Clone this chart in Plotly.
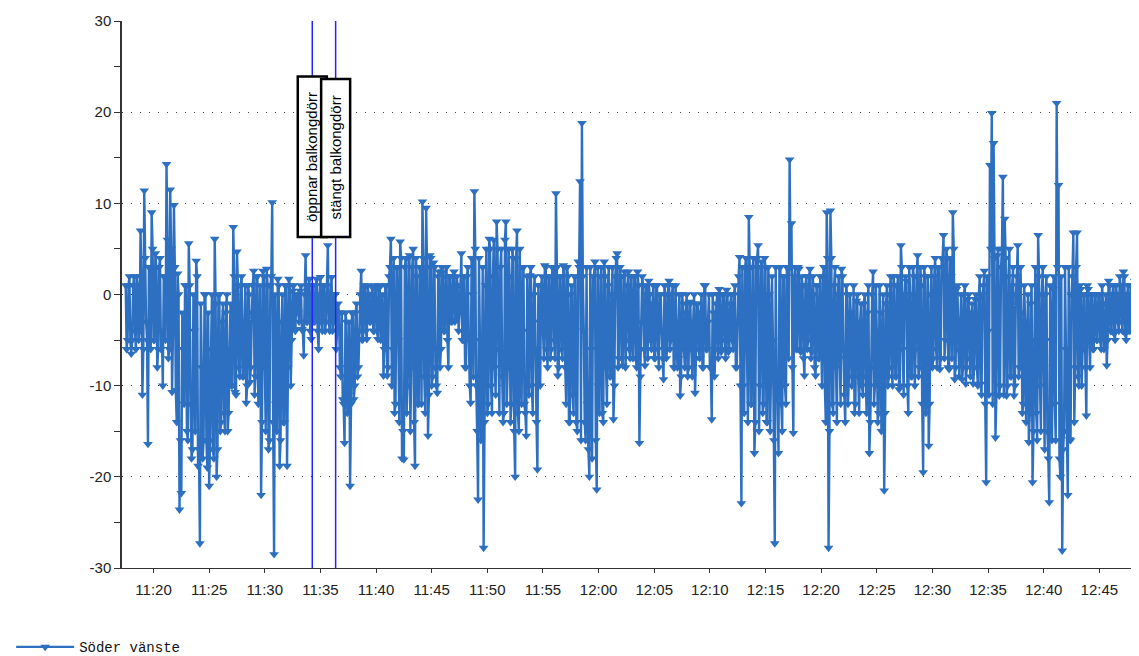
import pandas as pd
import plotly.graph_objects as go

# ---- data ----
series_name = "Söder vänste"
start_time = "2021-01-01 11:17:30"
step_seconds = 5

# samples at :00, :10, :20 ... (one row per minute)
values = [
    1, -5, 2,                                   # 11:17:30-
    -6.5, 1, -4, 2, -5, 7,                      # 11:18
    -11, 11.4, -3, -16.4, 3, 9,                 # 11:19
    -5, 4.5, -8, 3, -6, -10,                    # 11:20
    2, 14.3, -7, 11.5, -10.7, 9.8,              # 11:21
    -10.5, 2.3, -23.6, -21.8, -6, 1,            # 11:22
    -15, 5.6, -12, -17, -4, 3.7,                # 11:23
    -18.8, -27.3, -8, -16, 0, -19,              # 11:24
    -21, -6, -17, 6.1, -20, 0,                  # 11:25
    -15, -3, -13, -2, -15, -6,                  # 11:26
    -10, 7.4, -10.7, 4.7, -8, 1,                # 11:27
    -9, -3, -11.9, 1, -9.6, -2,                 # 11:28
    2.6, -9, 2, -7, -22, 2.6,                   # 11:29
    -8, 2.8, -17, 1, 10.1, -28.5,               # 11:30
    -12, 1.7, -18.8, -3, -14, 1,                # 11:31
    -18.8, 1.7, -10, 0.4, -3.8, 0,              # 11:32
    -2, 0.4, -3.8, -6.7, 4.3, -3,               # 11:33
    1.7, -4.9, 1, -3, 1.7, -6,                  # 11:34
    1.9, -4, 1, -3, 5.4, -4,                    # 11:35
    1.9, -3, 0, -4, -2, -9,                     # 11:36
    -11.5, -16.3, -3, -11, -21, -2,             # 11:37
    -11.5, -2, -9, -4, 2.6, -4.9,               # 11:38
    0.8, -4.9, 0, -3, 0.8, -4,                  # 11:39
    0.5, -4.9, 0.8, -3, -8.9, 1,                # 11:40
    -8.9, 2, 6.1, -6, -13, 3,                   # 11:41
    -5, 5.8, -18, -18.1, 4, -10,                # 11:42
    4.3, -8, 5, -18.8, 2, -12,                  # 11:43
    3, 10.2, -9, 9.5, -15.5, 4.3,               # 11:44
    -10, 3.5, -8, -10.8, 2.5, -6,               # 11:45
    2.5, -4, 3, -8, 2, -3,                      # 11:46
    2.5, -2.7, 1, -2, 4.5, -5,                  # 11:47
    -8, 2, -5, -11.9, 0, 11.3,                  # 11:48
    -10, -22.5, -5, -12, -27.8, 1,              # 11:49
    -13, 6.1, -10, 2, -8, 8,                    # 11:50
    -6, 3, -9, -13, 8, -8,                      # 11:51
    2, -12, 4, -20, 7, -15,                     # 11:52
    -8, 3, -12, -15.5, -4, 2.1,                 # 11:53
    -10, 0, -6, -19.2, -3, 1,                   # 11:54
    -4, 3.2, -6, 2, -7, 3,                      # 11:55
    -5, 11.1, -8.9, 2, -6, 3.2,                 # 11:56
    -8, 3, -14, 0, -11, 2,                      # 11:57
    -14, 3.6, 12.4, 18.8, -4, -16,              # 11:58
    -12, -20, -6, 2, 3.6, -21.4,                # 11:59
    -10, 2, -13, 3.6, -8, 1,                    # 12:00
    -9, 0, -13.7, 2, 4.5, -7,                   # 12:01
    2, -7.8, 2.5, -5, 2.5, -7,                  # 12:02
    -4, 2, -7, 2.5, -16.3, -3,                  # 12:03
    1, -7.8, 0, 1.5, -5, -1,                    # 12:04
    -7, 1, -6, 0, -4, -9.3,                     # 12:05
    0, -6, 1.5, -5, 1, -8,                      # 12:06
    -3, -7, -11.1, 0, -6, -2,                   # 12:07
    -9, -0.8, -6, -3, -10.8, -1,                # 12:08
    -6, -2, -8, 1, -6, -3,                      # 12:09
    -8, -13.7, -2, -6, 0, 0.6,                  # 12:10
    -6.3, 0, -5, 0.5, -6.3, -1,                 # 12:11
    -5, 0, -8, -3, 4.1, -22.9,                  # 12:12
    -10, 3, -6, 8.5, -12, 3,                    # 12:13
    -17.4, 4, 5.4, -10, 3.6, -12,               # 12:14
    3, -14, 0, -8, -5, -27.3,                   # 12:15
    -10, -17.4, 3, -15, 2, -12,                 # 12:16
    3, 14.8, 7.8, -15.2, 3, -6,                 # 12:17
    2.8, -6.3, 1, -8.9, 2, -5,                  # 12:18
    2.8, -6.3, 0, -8.9, 1, -7,                  # 12:19
    -5, 2, -10, 9, -27.8, 9.2,                  # 12:20
    -12, 1, -8, 0, -7, 2.8,                     # 12:21
    -6, -14, 0, -9, -2, -7,                     # 12:22
    -13, -0.7, -9, -3, -10, -1,                 # 12:23
    -9, -2, -17.4, -8, 2.5, -10,                # 12:24
    -4, -13, -2, -10, -21.5, -1,                # 12:25
    -10, 0, -8, 2, -9, 1,                       # 12:26
    -10.4, 5.4, -6, 0, 1.5, -13,                # 12:27
    0, -9, 2, -6, 4.3, -8,                      # 12:28
    1, -19.5, 2, -10, -16.6, 0,                 # 12:29
    -8, 2, -6, 3, -8.2, 4,                      # 12:30
    6.5, -5, 4, -8.2, 2, 9,                     # 12:31
    -9.3, 0.6, -6, -3, -9.3, 0,                 # 12:32
    -9.8, -0.5, -7, -2, -9.8, -0.5,             # 12:33
    -8, -0.5, -9.8, 0, 2.6, -20.6,              # 12:34
    -4, 14.2, 19.9, 16.6, -15.7, 4.3,           # 12:35
    -11.1, 3, 12.9, 8.3, -11.1, 2,              # 12:36
    -9, 1, -11.1, 0, 5.4, -8,                   # 12:37
    -2, -12, -3, -8, -16.2, -1,                 # 12:38
    -20.6, -5, -13, 6.5, -10, 0,                # 12:39
    -8, 0, -15, -22.8, -5, 0.6,                 # 12:40
    -12, 21, 12, -20, -28.1, -15,               # 12:41
    -6, -22, -15.9, 0, 6.8, -8,                 # 12:42
    6.8, -10, 0.6, -6, 0, -13.3,                # 12:43
    0.6, -8, 0, -6, 0, -5,                      # 12:44
    0, -6, -1, -5, -7.8, 1.5,                   # 12:45
    -4, 0, -4.3, 1, -3, 2,                      # 12:46
    -3, 2.5, -4.3, 0, -4, 1,                    # 12:47
    -4, 1.5, -3, 2,                             # 12:48
]

# samples at :05, :15, :25 ... (between the samples above)
values_5s = [
    -6, 1, -5,                                  # 11:17:35-
    -5, 2, -6, 1, -4, 2,                        # 11:18
    -6, 4, -5, 3, -6, 5,                        # 11:19
    -5, 3, -6, 4, -4, 2,                        # 11:20
    -5, 6, -6, 5, -4, 3,                        # 11:21
    -14, 0, -16, -2, -12, 1,                    # 11:22
    -16, 1, -18, 0, -15, 2,                     # 11:23
    -17, -1, -18, 0, -16, -2,                   # 11:24
    -16, 0, -18, -1, -17, 0,                    # 11:25
    -14, -1, -15, 0, -13, -1,                   # 11:26
    -10, 2, -11, 1, -9, 2,                      # 11:27
    -9, 1, -10, 0, -8, 1,                       # 11:28
    -11, 2, -12, 1, -14, 2,                     # 11:29
    -15, 1, -16, 2, -14, 0,                     # 11:30
    -15, 1, -16, 0, -14, 1,                     # 11:31
    -8, 1, -5, 1, -4, 0,                        # 11:32
    -3, 1, -4, 0, -3, 1,                        # 11:33
    -4, 1, -3, 1, -4, 0,                        # 11:34
    -3, 1, -4, 1, -3, 0,                        # 11:35
    -4, 0, -6, -1, -8, -2,                      # 11:36
    -12, -2, -13, -3, -12, -2,                  # 11:37
    -10, -1, -8, 0, -5, 1,                      # 11:38
    -4, 1, -3, 0, -4, 1,                        # 11:39
    -4, 1, -5, 0, -6, 1,                        # 11:40
    -8, 3, -10, 4, -12, 3,                      # 11:41
    -14, 4, -15, 3, -13, 4,                     # 11:42
    -15, 3, -14, 4, -12, 3,                     # 11:43
    -12, 4, -13, 3, -11, 4,                     # 11:44
    -9, 3, -10, 2, -8, 3,                       # 11:45
    -4, 2, -5, 2, -3, 2,                        # 11:46
    -3, 2, -4, 1, -5, 2,                        # 11:47
    -8, 3, -10, 4, -9, 5,                       # 11:48
    -15, 4, -16, 3, -14, 5,                     # 11:49
    -12, 5, -13, 6, -11, 5,                     # 11:50
    -13, 5, -14, 6, -12, 5,                     # 11:51
    -14, 5, -15, 4, -13, 5,                     # 11:52
    -12, 3, -13, 2, -11, 3,                     # 11:53
    -13, 2, -14, 1, -10, 2,                     # 11:54
    -7, 3, -8, 2, -6, 3,                        # 11:55
    -7, 3, -8, 2, -7, 3,                        # 11:56
    -12, 2, -14, 1, -13, 2,                     # 11:57
    -15, 3, -16, 2, -14, 3,                     # 11:58
    -17, 3, -18, 2, -16, 3,                     # 11:59
    -13, 3, -14, 2, -12, 3,                     # 12:00
    -9, 3, -10, 4, -8, 3,                       # 12:01
    -7, 2, -8, 1, -6, 2,                        # 12:02
    -7, 2, -8, 1, -9, 2,                        # 12:03
    -6, 1, -7, 0, -6, 1,                        # 12:04
    -7, 1, -8, 0, -7, 1,                        # 12:05
    -7, 1, -6, 0, -8, 1,                        # 12:06
    -8, 0, -9, -1, -8, 0,                       # 12:07
    -8, -1, -9, 0, -7, -1,                      # 12:08
    -7, 0, -8, 1, -6, 0,                        # 12:09
    -8, 0, -9, -1, -7, 0,                       # 12:10
    -6, 0, -7, 0, -6, 0,                        # 12:11
    -6, 1, -8, 2, -10, 3,                       # 12:12
    -13, 4, -14, 3, -12, 4,                     # 12:13
    -14, 4, -15, 3, -13, 4,                     # 12:14
    -14, 3, -15, 2, -16, 3,                     # 12:15
    -11, 3, -12, 2, -10, 3,                     # 12:16
    -7, 3, -8, 2, -6, 3,                        # 12:17
    -6, 2, -7, 1, -6, 2,                        # 12:18
    -7, 2, -8, 1, -7, 2,                        # 12:19
    -10, 3, -14, 4, -15, 4,                     # 12:20
    -13, 3, -14, 2, -12, 2,                     # 12:21
    -11, 1, -12, 0, -10, 1,                     # 12:22
    -12, 0, -13, -1, -11, 0,                    # 12:23
    -13, 1, -14, 0, -12, 1,                     # 12:24
    -14, 1, -15, 0, -13, 1,                     # 12:25
    -9, 2, -10, 1, -9, 2,                       # 12:26
    -10, 3, -11, 2, -10, 3,                     # 12:27
    -9, 3, -10, 2, -9, 3,                       # 12:28
    -12, 3, -13, 2, -12, 3,                     # 12:29
    -7, 4, -8, 3, -7, 4,                        # 12:30
    -7, 5, -8, 4, -7, 5,                        # 12:31
    -8, 1, -9, 0, -8, 1,                        # 12:32
    -8, 0, -9, -1, -8, 0,                       # 12:33
    -10, 2, -11, 1, -12, 2,                     # 12:34
    -11, 5, -12, 4, -11, 5,                     # 12:35
    -10, 5, -11, 4, -10, 5,                     # 12:36
    -9, 3, -10, 2, -9, 3,                       # 12:37
    -13, 1, -14, 0, -13, 1,                     # 12:38
    -15, 3, -16, 2, -15, 3,                     # 12:39
    -17, 2, -18, 1, -16, 2,                     # 12:40
    -16, 3, -18, 2, -17, 3,                     # 12:41
    -15, 3, -16, 2, -14, 3,                     # 12:42
    -9, 1, -10, 0, -8, 1,                       # 12:43
    -5, 0, -6, 0, -5, 0,                        # 12:44
    -5, 1, -6, 0, -5, 1,                        # 12:45
    -4, 1, -5, 0, -4, 1,                        # 12:46
    -4, 2, -5, 1, -4, 1,                        # 12:47
    -4, 1, -3,                                  # 12:48
]

event_times = ["2021-01-01 11:34:16", "2021-01-01 11:36:22"]
event_labels = ["öppnar balkongdörr", "stängt balkongdörr"]
event_box_top = [23.9, 23.65]
event_box_bottom = [6.3, 6.3]

x_range = ["2021-01-01 11:17:10", "2021-01-01 12:48:34"]
y_ticks = [-30, -20, -10, 0, 10, 20, 30]

# interleave the two sample sets into one series
series = []
for i, v in enumerate(values):
    series.append(v)
    if i < len(values_5s):
        series.append(values_5s[i])
times = pd.date_range(start=start_time, periods=len(series), freq=f"{step_seconds}s")

color = "#2D6FC0"
fig = go.Figure()
fig.add_trace(go.Scatter(
    x=times, y=series, mode="lines+markers", name=series_name,
    line=dict(color=color, width=2.4, simplify=False),
    marker=dict(symbol="triangle-down", size=8.5, color=color, line=dict(width=0)),
))

shapes = []
annotations = []
for t in event_times:
    shapes.append(dict(type="line", xref="x", yref="paper", x0=t, x1=t, y0=0, y1=1,
                       line=dict(color="#2424FF", width=1.5), layer="above"))
for t, lab, top, bot in zip(event_times, event_labels, event_box_top, event_box_bottom):
    shapes.append(dict(type="rect", xref="x", yref="y", xsizemode="pixel", xanchor=t,
                       x0=-14.5, x1=14.5, y0=bot, y1=top,
                       fillcolor="white", line=dict(color="black", width=2.5), layer="above"))
    annotations.append(dict(x=t, y=(top + bot) / 2, xref="x", yref="y", text=lab,
                            showarrow=False, textangle=-90,
                            font=dict(family="Liberation Sans, Arial", size=15, color="black")))

# the page body adds an 8px offset, so the figure is 8px smaller than the window
fig.update_layout(
    width=1131, height=648,
    margin=dict(l=114, r=0, t=13, b=88, autoexpand=False),
    paper_bgcolor="white", plot_bgcolor="white",
    font=dict(family="Liberation Sans, Arial", size=15, color="#222"),
    shapes=shapes, annotations=annotations,
    showlegend=True,
    legend=dict(x=-0.109, y=-0.145, xanchor="left", yanchor="middle",
                font=dict(family="Liberation Mono, Courier New, monospace", size=14, color="#111"),
                itemwidth=58, bgcolor="rgba(0,0,0,0)"),
    xaxis=dict(
        type="date", range=x_range,
        tickformat="%H:%M", dtick=300000, tick0="2021-01-01 11:20:00",
        showgrid=False, zeroline=False,
        showline=True, linecolor="#333", linewidth=1,
        ticks="outside", ticklen=4, tickcolor="#333", ticklabelstandoff=4,
        tickfont=dict(size=15, color="#222"),
    ),
    yaxis=dict(
        range=[-30, 30], tickvals=y_ticks, ticktext=[str(v) for v in y_ticks],
        showgrid=True, gridcolor="#444", griddash="1px,8px", gridwidth=1,
        zeroline=False,
        showline=True, linecolor="#333", linewidth=1.5,
        ticks="outside", ticklen=6, tickcolor="#333",
        minor=dict(dtick=5, tick0=0, ticks="outside", ticklen=6, tickcolor="#333", showgrid=False),
        tickfont=dict(size=15, color="#222"),
    ),
)

fig.write_html("out.html")
